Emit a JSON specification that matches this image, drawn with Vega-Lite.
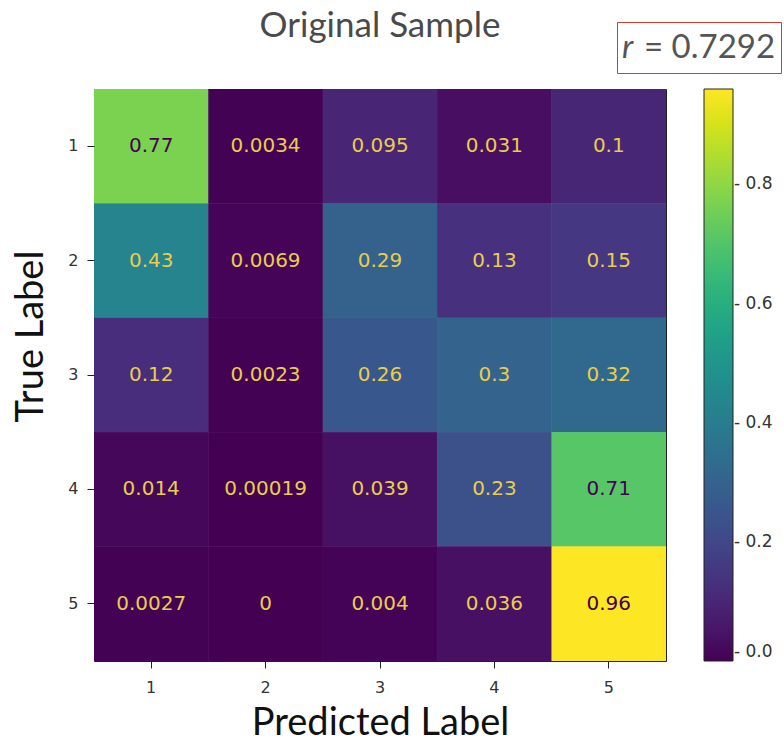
{
  "$schema": "https://vega.github.io/schema/vega-lite/v6.json",
  "width": 572,
  "height": 572,
  "autosize": "none",
  "padding": {"left": 94, "top": 89, "right": 118, "bottom": 81},
  "background": "white",
  "title": {"text": "Original Sample", "fontSize": 35, "font": "Lato", "fontWeight": "normal", "color": "#4a4a4a", "offset": -50, "anchor": "middle", "baseline": "alphabetic", "frame": "group"},
  "config": {"view": {"stroke": "#222", "strokeWidth": 1}},
  "datasets": {
    "cm": [
      {"truth": "1", "pred": "1", "v": 0.77},
      {"truth": "1", "pred": "2", "v": 0.0034},
      {"truth": "1", "pred": "3", "v": 0.095},
      {"truth": "1", "pred": "4", "v": 0.031},
      {"truth": "1", "pred": "5", "v": 0.1},
      {"truth": "2", "pred": "1", "v": 0.43},
      {"truth": "2", "pred": "2", "v": 0.0069},
      {"truth": "2", "pred": "3", "v": 0.29},
      {"truth": "2", "pred": "4", "v": 0.13},
      {"truth": "2", "pred": "5", "v": 0.15},
      {"truth": "3", "pred": "1", "v": 0.12},
      {"truth": "3", "pred": "2", "v": 0.0023},
      {"truth": "3", "pred": "3", "v": 0.26},
      {"truth": "3", "pred": "4", "v": 0.3},
      {"truth": "3", "pred": "5", "v": 0.32},
      {"truth": "4", "pred": "1", "v": 0.014},
      {"truth": "4", "pred": "2", "v": 0.00019},
      {"truth": "4", "pred": "3", "v": 0.039},
      {"truth": "4", "pred": "4", "v": 0.23},
      {"truth": "4", "pred": "5", "v": 0.71},
      {"truth": "5", "pred": "1", "v": 0.0027},
      {"truth": "5", "pred": "2", "v": 0},
      {"truth": "5", "pred": "3", "v": 0.004},
      {"truth": "5", "pred": "4", "v": 0.036},
      {"truth": "5", "pred": "5", "v": 0.96}
    ],
    "stat": [{"stat": "= 0.7292"}]
  },
  "layer": [
    {
      "data": {"name": "cm"},
      "mark": {"type": "rect"},
      "encoding": {
        "x": {"field": "pred", "type": "ordinal", "scale": {"paddingInner": 0, "paddingOuter": 0},
          "axis": {"title": "Predicted Label", "titleFontSize": 38, "titleFont": "Lato", "titleFontWeight": "normal", "titleColor": "#111", "titlePadding": 9,
            "labelAngle": 0, "labelFontSize": 16, "labelFont": "DejaVu Sans", "labelColor": "#333", "labelPadding": 11,
            "tickColor": "#222", "tickSize": 7, "domain": false}},
        "y": {"field": "truth", "type": "ordinal", "scale": {"paddingInner": 0, "paddingOuter": 0},
          "axis": {"title": "True Label", "titleFontSize": 38, "titleFont": "Lato", "titleFontWeight": "normal", "titleColor": "#111", "titlePadding": 17, "titleY": 247,
            "labelAngle": 0, "labelFontSize": 16, "labelFont": "DejaVu Sans", "labelColor": "#333", "labelPadding": 9,
            "tickColor": "#222", "tickSize": 7, "domain": false}},
        "color": {"field": "v", "type": "quantitative", "scale": {"scheme": "viridis", "domain": [0, 0.96]},
          "legend": {"title": null, "orient": "right", "offset": 38, "padding": 0, "gradientLength": 572, "gradientThickness": 29,
            "gradientStrokeColor": "#222", "gradientStrokeWidth": 1, "values": [0, 0.2, 0.4, 0.6, 0.8], "format": ".1f",
            "labelExpr": "'- ' + datum.label", "labelFontSize": 17, "labelFont": "DejaVu Sans", "labelColor": "#333",
            "labelOffset": 1, "labelOverlap": false, "labelBaseline": "middle"}}
      }
    },
    {
      "data": {"name": "cm"},
      "mark": {"type": "rect"},
      "encoding": {
        "x": {"field": "pred", "type": "ordinal"},
        "y": {"field": "truth", "type": "ordinal"},
        "color": {"field": "v", "type": "quantitative"}
      }
    },
    {
      "data": {"name": "cm"},
      "mark": {"type": "text", "font": "DejaVu Sans", "fontSize": 20},
      "encoding": {
        "x": {"field": "pred", "type": "ordinal"},
        "y": {"field": "truth", "type": "ordinal"},
        "text": {"field": "v", "type": "quantitative", "format": ".2~g"},
        "color": {"condition": {"test": "datum.v > 0.48", "value": "#440154"}, "value": "#e8cd4e"}
      }
    },
    {
      "data": {"name": "stat"},
      "mark": {"type": "point", "opacity": 0},
      "encoding": {
        "shape": {"field": "stat", "type": "nominal",
          "legend": {"orient": "none", "legendX": 523, "legendY": -67, "title": "r", "titleOrient": "left",
            "titleFont": "Lato", "titleFontSize": 33, "titleFontStyle": "italic", "titleFontWeight": "normal", "titleColor": "#555",
            "titlePadding": -31, "titleBaseline": "middle",
            "labelFont": "Lato", "labelFontSize": 33, "labelColor": "#555", "labelLimit": 400, "labelOffset": 0,
            "symbolSize": 1681, "symbolOpacity": 0, "symbolStrokeWidth": 0,
            "padding": 5, "strokeColor": "#c8402f",
            "encode": {"legend": {"update": {"strokeWidth": {"value": 2}}}}}}
      }
    }
  ]
}
